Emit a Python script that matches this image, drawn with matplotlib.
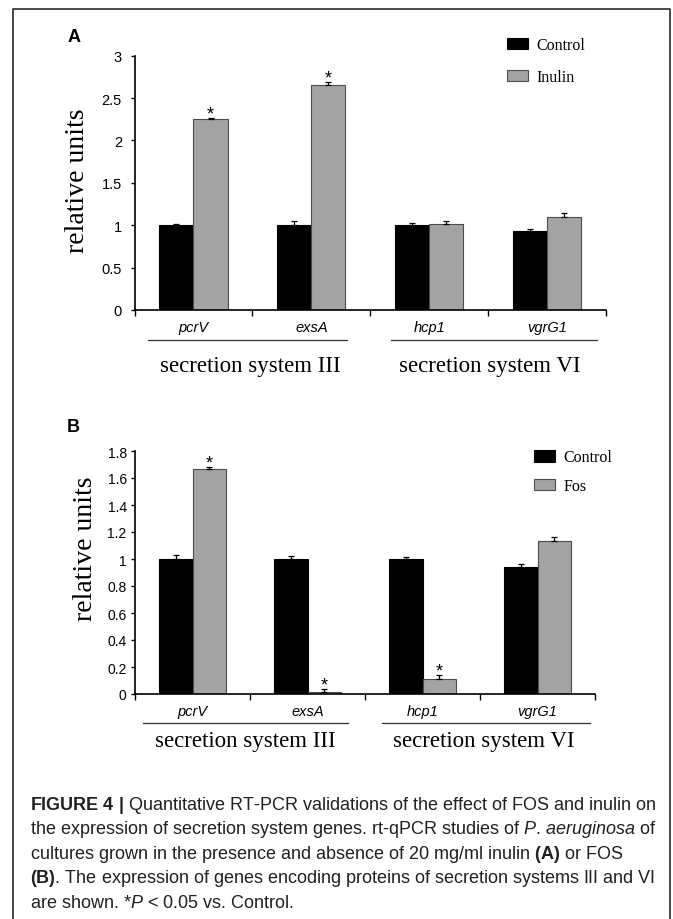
"""Figure 4: rt-qPCR of secretion system genes (inulin / FOS)."""

import numpy as np
import matplotlib
matplotlib.use("Agg")
import matplotlib.pyplot as plt
from matplotlib.lines import Line2D

plt.rcParams["font.family"] = ["Liberation Sans", "DejaVu Sans"]
plt.rcParams["mathtext.fontset"] = "custom"
plt.rcParams["mathtext.rm"] = "Liberation Sans"
plt.rcParams["mathtext.it"] = "Liberation Sans:italic"
plt.rcParams["mathtext.bf"] = "Liberation Sans:bold"

# datos
genes = ["pcrV", "exsA", "hcp1", "vgrG1"]
groups = ["secretion system III", "secretion system VI"]

a_control = [1.00, 1.00, 1.00, 0.93]
a_control_err = [0.02, 0.05, 0.03, 0.02]
a_inulin = [2.25, 2.65, 1.02, 1.10]
a_inulin_err = [0.02, 0.045, 0.03, 0.05]
a_signif = [True, True, False, False]

b_control = [1.00, 1.00, 1.00, 0.94]
b_control_err = [0.03, 0.02, 0.015, 0.02]
b_fos = [1.67, 0.015, 0.11, 1.13]
b_fos_err = [0.015, 0.02, 0.03, 0.03]
b_signif = [True, True, True, False]

caption_lines = [
    r"$\mathbf{FIGURE\ 4\ |}$ Quantitative RT-PCR validations of the effect of FOS and inulin on",
    r"the expression of secretion system genes. rt-qPCR studies of $\mathit{P}$. $\mathit{aeruginosa}$ of",
    r"cultures grown in the presence and absence of 20 mg/ml inulin $\mathbf{(A)}$ or FOS",
    r"$\mathbf{(B)}$. The expression of genes encoding proteins of secretion systems III and VI",
    r"are shown. *$\mathit{P}$ < 0.05 vs. Control.",
]

W, H = 673, 920
SERIF = "Liberation Serif"
GRAY = "#a3a3a3"


def fx(px):
    return px / W


def fy(py):
    return 1 - py / H


def draw_panel(ax, ctrl, ctrl_err, trt, trt_err, signif, trt_label, ymax, ystep,
               tick_size, tick_pad, under_y, under_spans, group_y, group_x, legend_xy,
               legend_spacing):
    x = np.arange(len(genes))
    w = 0.29
    b1 = ax.bar(x - w / 2, ctrl, w, color="black", edgecolor="black", lw=0.8)
    b2 = ax.bar(x + w / 2, trt, w, color=GRAY, edgecolor="#4d4d4d", lw=0.8)
    zeros = np.zeros(len(genes))
    ax.errorbar(x - w / 2, ctrl, yerr=[zeros, ctrl_err], fmt="none", ecolor="black",
                elinewidth=0.9, capsize=2.5, capthick=0.9)
    ax.errorbar(x + w / 2, trt, yerr=[zeros, trt_err], fmt="none", ecolor="black",
                elinewidth=0.9, capsize=2.5, capthick=0.9)
    for i, s in enumerate(signif):
        if s:
            ax.annotate("*", (x[i] + w / 2, trt[i] + trt_err[i]), xytext=(0, -0.5),
                        textcoords="offset points", ha="center", va="baseline",
                        fontsize=13)

    ax.set_xlim(-0.5, len(genes) - 0.5)
    ax.set_ylim(0, ymax)
    ax.set_yticks(np.arange(0, ymax + 1e-9, ystep))
    ax.set_yticklabels([f"{v:g}" for v in np.arange(0, ymax + 1e-9, ystep)])
    ax.tick_params(axis="y", length=3, width=1, pad=tick_pad, labelsize=tick_size)
    ax.set_xticks(x)
    ax.set_xticklabels(genes, fontstyle="italic", fontsize=10.5)
    ax.tick_params(axis="x", which="major", length=0, pad=7)
    ax.set_xticks(np.arange(-0.5, len(genes)), minor=True)
    ax.tick_params(axis="x", which="minor", length=4, width=1)
    for side in ["top", "right"]:
        ax.spines[side].set_visible(False)
    for side in ["left", "bottom"]:
        ax.spines[side].set_linewidth(1.2)

    tr = ax.get_xaxis_transform()
    for (x0, x1) in under_spans:
        ax.plot([x0, x1], [under_y, under_y], color="#333333", lw=0.9,
                transform=tr, clip_on=False)
    for gx, name in zip(group_x, groups):
        ax.text(gx, group_y, name, transform=tr, ha="center", va="center",
                fontsize=16.5, family=SERIF)

    ax.legend([b1, b2], ["Control", trt_label], loc="upper left",
              bbox_to_anchor=legend_xy, bbox_transform=ax.figure.transFigure,
              frameon=False, borderpad=0, borderaxespad=0, handlelength=1.3,
              handleheight=0.7, handletextpad=0.55, labelspacing=legend_spacing,
              prop={"family": SERIF, "size": 11.5})


fig = plt.figure(figsize=(W / 100, H / 100), dpi=100)

ax_a = fig.add_axes([fx(134.5), fy(311), fx(606) - fx(134.5), (311 - 56.7) / H])
draw_panel(ax_a, a_control, a_control_err, a_inulin, a_inulin_err, a_signif, "Inulin",
           3, 0.5, 10.5, 6, -0.117, [(-0.385, 1.302), (1.675, 3.423)], -0.22,
           [0.48, 2.515], (fx(507), fy(38)), 1.0)

ax_b = fig.add_axes([fx(135), fy(695), fx(595) - fx(135), (695 - 452) / H])
draw_panel(ax_b, b_control, b_control_err, b_fos, b_fos_err, b_signif, "Fos",
           1.8, 0.2, 10, 3, -0.119, [(-0.43, 1.35), (1.65, 3.46)], -0.192,
           [0.456, 2.53], (fx(534), fy(450.5)), 0.8)

# etiquetas de panel y ejes
fig.text(fx(68), fy(38), "A", fontsize=13, weight="bold", va="center", ha="left")
fig.text(fx(67), fy(428), "B", fontsize=13, weight="bold", va="center", ha="left")
fig.text(fx(77), fy(181), "relative units", rotation=90, fontsize=20, family=SERIF,
         ha="center", va="center")
fig.text(fx(85), fy(549), "relative units", rotation=90, fontsize=20, family=SERIF,
         ha="center", va="center")

# marco
frame = Line2D([fx(13.3), fx(13.3), fx(670), fx(670)], [0, fy(10), fy(10), 0],
               transform=fig.transFigure, color="#3a3a3a", lw=1.3)
fig.add_artist(frame)

# leyenda de la figura
for i, line in enumerate(caption_lines):
    fig.text(fx(30), fy(810 + 24.5 * i), line, fontsize=13, color="#231f20",
             ha="left", va="baseline")

fig.savefig("out.png", dpi=100)
